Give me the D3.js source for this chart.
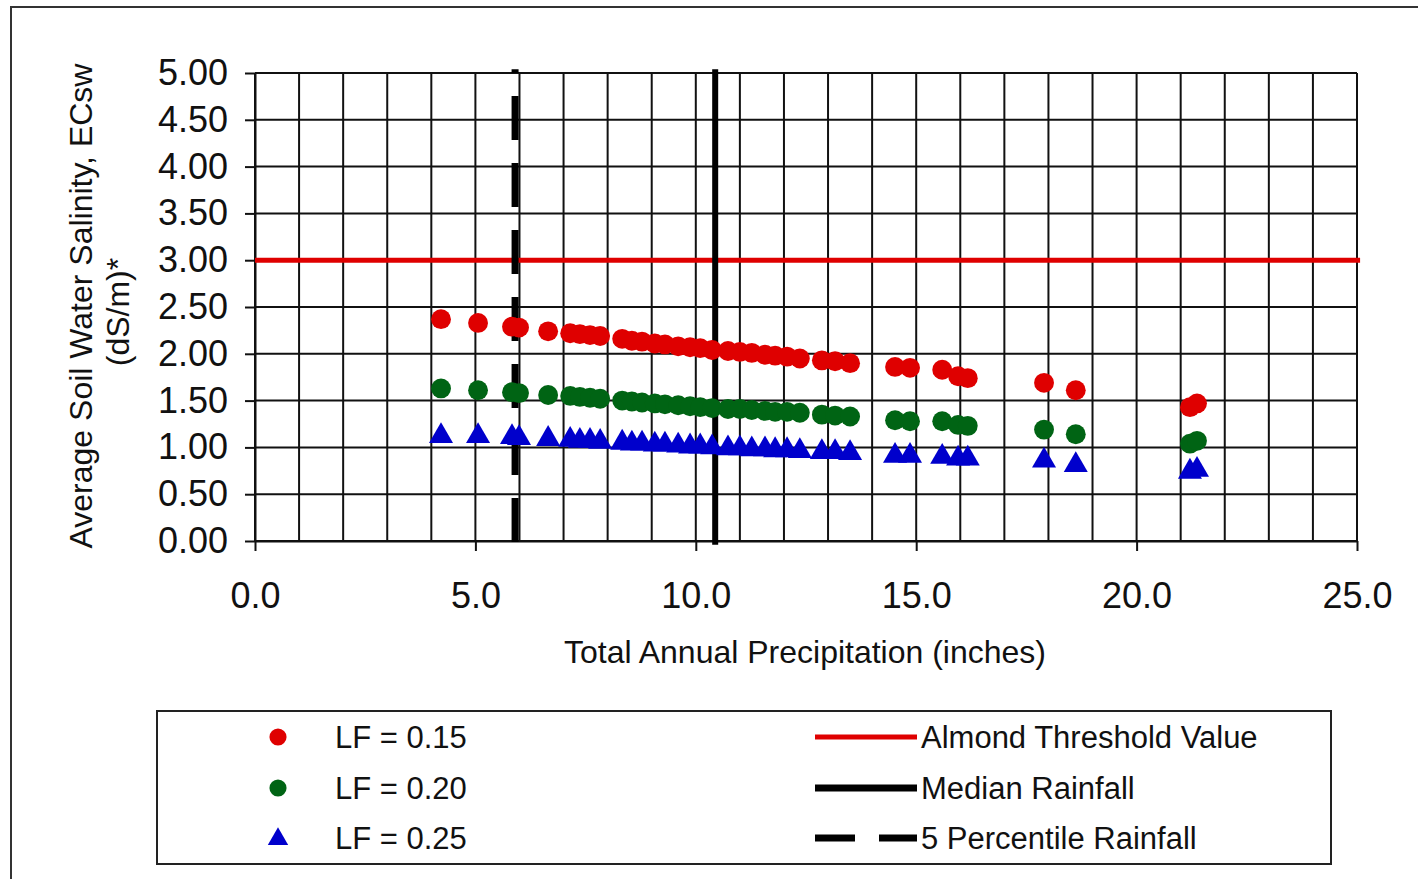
<!DOCTYPE html>
<html>
<head>
<meta charset="utf-8">
<script src="https://cdnjs.cloudflare.com/ajax/libs/d3/7.8.5/d3.min.js"></script>
<style>
  body { margin: 0; background: #fff; }
  svg text { font-family: "Liberation Sans", Arial, sans-serif; fill: #111; }
  .axis path, .axis line { stroke: #111; stroke-width: 2; }
  .grid line { stroke: #111; stroke-width: 2; }
</style>
</head>
<body>
<script>
// Total annual precipitation (inches), one entry per year
var precip = [4.22, 5.06, 5.83, 5.99, 6.65, 7.15, 7.37, 7.60, 7.83, 8.33,
              8.55, 8.78, 9.07, 9.30, 9.60, 9.87, 10.10, 10.37, 10.73, 11.00,
              11.27, 11.57, 11.80, 12.07, 12.36, 12.86, 13.16, 13.50, 14.52, 14.86,
              15.59, 15.95, 16.17, 17.90, 18.62, 21.21, 21.37];

// Average soil water salinity (dS/m) for each leaching fraction
var lf15 = [2.37, 2.33, 2.29, 2.28, 2.24, 2.22, 2.21, 2.20, 2.19, 2.16,
            2.14, 2.13, 2.11, 2.10, 2.08, 2.07, 2.06, 2.04, 2.03, 2.02,
            2.01, 1.99, 1.98, 1.97, 1.95, 1.93, 1.92, 1.90, 1.86, 1.85,
            1.83, 1.76, 1.74, 1.69, 1.61, 1.43, 1.47];
var lf20 = [1.63, 1.61, 1.59, 1.58, 1.56, 1.55, 1.54, 1.53, 1.52, 1.50,
            1.49, 1.48, 1.47, 1.46, 1.45, 1.44, 1.43, 1.42, 1.41, 1.41,
            1.40, 1.39, 1.38, 1.38, 1.37, 1.35, 1.34, 1.33, 1.29, 1.28,
            1.28, 1.24, 1.23, 1.19, 1.14, 1.04, 1.07];
var lf25 = [1.12, 1.12, 1.11, 1.10, 1.09, 1.08, 1.07, 1.07, 1.06, 1.05,
            1.04, 1.04, 1.03, 1.03, 1.02, 1.01, 1.01, 1.00, 0.99, 0.99,
            0.98, 0.98, 0.97, 0.97, 0.96, 0.95, 0.95, 0.94, 0.91, 0.91,
            0.90, 0.88, 0.88, 0.86, 0.81, 0.74, 0.76];

var seriesNames = ["LF = 0.15", "LF = 0.20", "LF = 0.25"];
var refNames = ["Almond Threshold Value", "Median Rainfall", "5 Percentile Rainfall"];

var threshold = 3.0;        // almond threshold (dS/m)
var medianRain = 10.44;     // inches
var pct5Rain = 5.90;        // inches

var xTicks = [0, 5, 10, 15, 20, 25];
var yTicks = [0, 0.5, 1, 1.5, 2, 2.5, 3, 3.5, 4, 4.5, 5];

var red = "#df0000", green = "#006414", blue = "#0000cc";

// Set the dimensions of the canvas / graph
var W = 1418, H = 879;
var margin = {top: 73, right: 61, bottom: 338, left: 255},
    width = W - margin.left - margin.right,
    height = H - margin.top - margin.bottom;

var x = d3.scaleLinear().domain([0, 25]).range([0, width]);
var y = d3.scaleLinear().domain([0, 5]).range([height, 0]);

var root = d3.select("body").append("svg")
    .attr("width", W)
    .attr("height", H);

// outer frame (runs off the right and bottom)
root.append("rect")
    .attr("x", 11).attr("y", 7)
    .attr("width", W + 20).attr("height", H + 20)
    .attr("fill", "none")
    .attr("stroke", "#333")
    .attr("stroke-width", 2);

var svg = root.append("g")
    .attr("transform", "translate(" + margin.left + "," + margin.top + ")");

// grid lines
svg.append("g").attr("class", "grid")
    .selectAll("line").data(x.ticks(25)).enter().append("line")
    .attr("x1", function(d) { return x(d); })
    .attr("x2", function(d) { return x(d); })
    .attr("y1", 0).attr("y2", height);

svg.append("g").attr("class", "grid")
    .selectAll("line").data(yTicks).enter().append("line")
    .attr("x1", 0).attr("x2", width)
    .attr("y1", function(d) { return y(d); })
    .attr("y2", function(d) { return y(d); });

// axes
svg.append("g")
    .attr("class", "axis")
    .attr("transform", "translate(0," + height + ")")
    .call(d3.axisBottom(x).tickValues(xTicks).tickFormat(d3.format(".1f"))
        .tickSize(10).tickSizeOuter(0).tickPadding(31))
    .selectAll("text").style("font-size", "36px");

svg.append("g")
    .attr("class", "axis")
    .call(d3.axisLeft(y).tickValues(yTicks).tickFormat(d3.format(".2f"))
        .tickSize(10).tickSizeOuter(0).tickPadding(17))
    .selectAll("text").style("font-size", "36px");

// threshold line
svg.append("line")
    .attr("x1", x(0)).attr("x2", x(25.07))
    .attr("y1", y(threshold)).attr("y2", y(threshold))
    .attr("stroke", red).attr("stroke-width", 5);

// 5 percentile rainfall (dashed, drawn from the bottom up)
svg.append("line")
    .attr("x1", x(pct5Rain)).attr("x2", x(pct5Rain))
    .attr("y1", y(-0.01)).attr("y2", y(5.04))
    .attr("stroke", "#000").attr("stroke-width", 7)
    .attr("stroke-dasharray", "44,23");

// median rainfall
svg.append("line")
    .attr("x1", x(medianRain)).attr("x2", x(medianRain))
    .attr("y1", y(-0.04)).attr("y2", y(5.04))
    .attr("stroke", "#000").attr("stroke-width", 6);

// data points
var circle = d3.symbol().type(d3.symbolCircle).size(310);
var tri = d3.symbol().type(d3.symbolTriangle).size(250);

var series = [
    {vals: lf15, color: red, sym: circle},
    {vals: lf20, color: green, sym: circle},
    {vals: lf25, color: blue, sym: tri}
];

series.forEach(function(s) {
    svg.append("g").selectAll("path")
        .data(precip).enter().append("path")
        .attr("d", s.sym)
        .attr("fill", s.color)
        .attr("transform", function(d, i) {
            return "translate(" + x(d) + "," + y(s.vals[i]) + ")";
        });
});

// axis titles
svg.append("text")
    .attr("x", width / 2 - 1)
    .attr("y", height + 122)
    .attr("text-anchor", "middle")
    .style("font-size", "32px")
    .text("Total Annual Precipitation (inches)");

var yTitle = root.append("text")
    .attr("transform", "rotate(-90)")
    .attr("text-anchor", "middle")
    .style("font-size", "32px");
yTitle.append("tspan")
    .attr("x", -(margin.top + height / 2) + 1)
    .attr("y", 92)
    .text("Average Soil Water Salinity, ECsw");
yTitle.append("tspan")
    .attr("x", -(margin.top + height / 2) - 5)
    .attr("y", 129)
    .text("(dS/m)*");

// legend
var legend = root.append("g");
legend.append("rect")
    .attr("x", 157).attr("y", 711)
    .attr("width", 1174).attr("height", 153)
    .attr("fill", "none")
    .attr("stroke", "#222")
    .attr("stroke-width", 2);

var rowY = [737, 788, 838];

series.forEach(function(s, i) {
    legend.append("path")
        .attr("d", s.sym === tri ? d3.symbol().type(d3.symbolTriangle).size(180)
                                 : d3.symbol().type(d3.symbolCircle).size(230))
        .attr("fill", s.color)
        .attr("transform", "translate(278," + (rowY[i] + (s.sym === tri ? 1 : 0)) + ")");
    legend.append("text")
        .attr("x", 335).attr("y", rowY[i])
        .attr("dominant-baseline", "central")
        .style("font-size", "31px")
        .text(seriesNames[i]);
});

var refStyles = [
    {color: red, dash: null},
    {color: "#000", dash: null},
    {color: "#000", dash: "40,24"}
];

refNames.forEach(function(name, i) {
    legend.append("line")
        .attr("x1", 815).attr("x2", 917)
        .attr("y1", rowY[i]).attr("y2", rowY[i])
        .attr("stroke", refStyles[i].color)
        .attr("stroke-width", i === 0 ? 5 : 7)
        .attr("stroke-dasharray", refStyles[i].dash);
    legend.append("text")
        .attr("x", 921).attr("y", rowY[i])
        .attr("dominant-baseline", "central")
        .style("font-size", "31px")
        .text(name);
});
</script>
</body>
</html>
